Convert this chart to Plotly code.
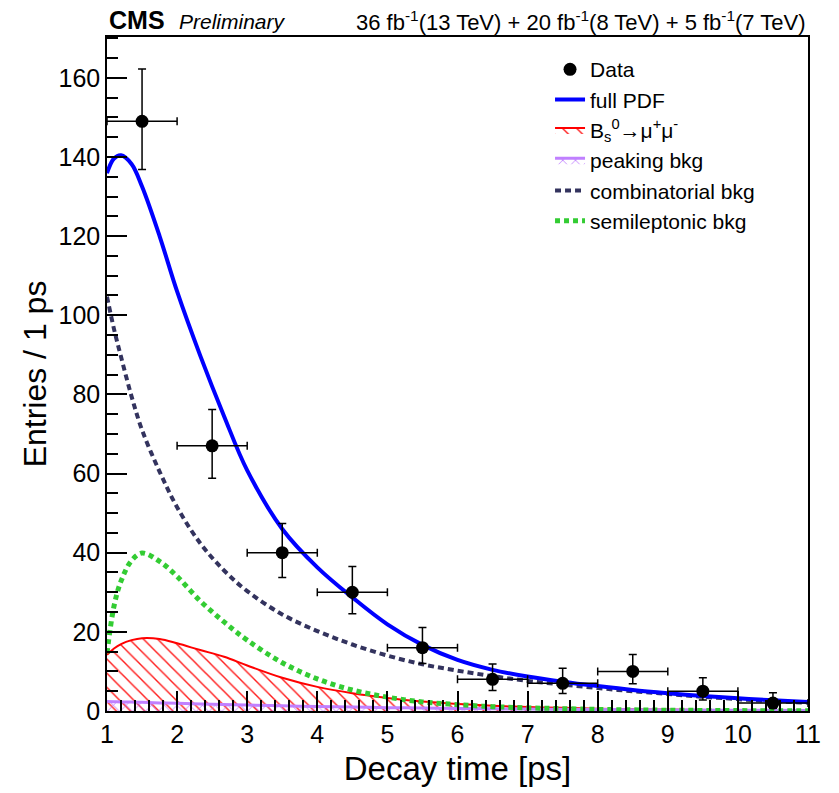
import plotly.graph_objects as go

# ---- data points (bin centres, counts, asymmetric Poisson errors) ----
bin_centers = [1.5, 2.5, 3.5, 4.5, 5.5, 6.5, 7.5, 8.5, 9.5, 10.5]
counts = [149, 67, 40, 30, 16, 8, 7, 10, 5, 2]
err_up = [13.2, 9.2, 7.4, 6.5, 5.1, 3.9, 3.8, 4.3, 3.4, 2.6]
err_dn = [12.2, 8.2, 6.3, 5.4, 4.0, 2.8, 2.6, 3.1, 2.2, 1.3]
bin_halfwidth = [0.5] * 10

# ---- fitted curves ----
t = [1.0, 1.1, 1.2, 1.35, 1.5, 1.75, 2.0, 2.33, 2.67, 3.0, 3.5, 4.0, 4.5,
     5.0, 5.5, 6.0, 6.5, 7.0, 7.5, 8.0, 8.5, 9.0, 9.5, 10.0, 10.5, 11.0]
full_pdf = [135.9, 139.6, 140.4, 138.2, 132.5, 120.0, 106.0, 89.8, 74.5, 60.8,
            46.0, 36.3, 28.7, 21.9, 16.7, 12.9, 10.4, 8.7, 7.4, 6.3, 5.3, 4.5,
            3.8, 3.2, 2.7, 2.3]
combinatorial = [104.7, 96.5, 89.5, 79.5, 71.0, 60.5, 51.5, 42.4, 35.5, 30.3,
                 24.4, 20.2, 16.8, 14.0, 11.8, 10.2, 8.8, 7.6, 6.7, 5.8, 5.0,
                 4.3, 3.6, 3.0, 2.5, 2.1]
semileptonic = [14.6, 26.5, 32.8, 38.0, 39.9, 37.8, 34.0, 27.8, 22.5, 17.9,
                12.2, 8.1, 5.3, 3.5, 2.3, 1.6, 1.1, 0.8, 0.6, 0.4, 0.3, 0.2,
                0.15, 0.1, 0.07, 0.05]
signal = [14.2, 15.8, 16.9, 17.9, 18.4, 18.2, 17.1, 15.4, 13.7, 11.5,
          8.4, 6.1, 4.5, 3.3, 2.4, 1.8, 1.35, 1.0, 0.8, 0.6, 0.45, 0.35,
          0.27, 0.2, 0.15, 0.12]
peaking = [2.4, 2.35, 2.3, 2.25, 2.2, 2.05, 1.95, 1.8, 1.65, 1.5,
           1.3, 1.15, 1.0, 0.85, 0.75, 0.65, 0.57, 0.5, 0.44, 0.38, 0.33,
           0.28, 0.24, 0.2, 0.17, 0.15]

x_ticks = list(range(1, 12))
y_ticks = [0, 20, 40, 60, 80, 100, 120, 140, 160]

FONT = "Liberation Sans, Arial, Helvetica, sans-serif"

fig = go.Figure()

fig.add_trace(go.Scatter(
    x=t, y=signal, mode="lines", name="B<sub>s</sub><sup>0</sup>→μ<sup>+</sup>μ<sup>-</sup>",
    legendgroup="c", legendrank=3,
    line=dict(color="#ff0000", width=2, shape="spline"),
    fill="tozeroy", fillcolor="rgba(0,0,0,0)",
    fillpattern=dict(shape="\\", fgcolor="#ff1a1a", fgopacity=1, bgcolor="rgba(255,255,255,0)",
                     size=10, solidity=0.14, fillmode="overlay"),
))

fig.add_trace(go.Scatter(
    x=t, y=peaking, mode="lines", name="peaking bkg", legendgroup="d", legendrank=4,
    line=dict(color="#c080ff", width=3, shape="spline"),
    fill="tozeroy", fillcolor="rgba(0,0,0,0)",
    fillpattern=dict(shape="x", fgcolor="#b060ff", fgopacity=1, bgcolor="rgba(255,255,255,0)",
                     size=9, solidity=0.15, fillmode="overlay"),
))

fig.add_trace(go.Scatter(
    x=t, y=combinatorial, mode="lines", name="combinatorial bkg", legendgroup="e",
    legendrank=5,
    line=dict(color="#33335e", width=4, dash="6px,4px", shape="spline"),
))

fig.add_trace(go.Scatter(
    x=t, y=semileptonic, mode="lines", name="semileptonic bkg", legendgroup="f",
    legendrank=6,
    line=dict(color="#33cc33", width=5, dash="5px,4px", shape="spline"),
))

fig.add_trace(go.Scatter(
    x=t, y=full_pdf, mode="lines", name="full PDF", legendgroup="b", legendrank=2,
    line=dict(color="#0000ff", width=4, shape="spline"),
))

fig.add_trace(go.Scatter(
    x=bin_centers, y=counts, mode="markers", name="Data", legendgroup="a", legendrank=1,
    marker=dict(color="black", size=13),
    error_y=dict(type="data", symmetric=False, array=err_up, arrayminus=err_dn,
                 color="black", thickness=1.5, width=4),
    error_x=dict(type="data", array=bin_halfwidth, color="black", thickness=1.5, width=4),
))

axis_common = dict(
    showline=True, linecolor="black", linewidth=1.5, mirror=True,
    ticks="inside", ticklen=20, tickwidth=1.5, tickcolor="black",
    showgrid=False, zeroline=False,
    tickfont=dict(family=FONT, size=25, color="black"),
)

fig.update_xaxes(
    range=[1, 11], tickvals=x_ticks, ticktext=[str(v) for v in x_ticks],
    minor=dict(dtick=0.2, ticks="inside", ticklen=11, tickwidth=1.5, tickcolor="black"),
    title=dict(text="Decay time [ps]", font=dict(family=FONT, size=33, color="black"), standoff=10),
    **axis_common,
)
fig.update_yaxes(
    range=[0, 170.3], tickvals=y_ticks, ticktext=[str(v) for v in y_ticks],
    minor=dict(dtick=5, ticks="inside", ticklen=11, tickwidth=1.5, tickcolor="black"),
    title=dict(text="Entries / 1 ps", font=dict(family=FONT, size=32, color="black"), standoff=2),
    **axis_common,
)

fig.update_layout(
    width=839, height=793,
    margin=dict(l=107, r=31, t=37, b=82),
    paper_bgcolor="white", plot_bgcolor="white",
    font=dict(family=FONT, color="black"),
    showlegend=True,
    legend=dict(x=0.632, y=0.982, xanchor="left", yanchor="top",
                bgcolor="rgba(0,0,0,0)", borderwidth=0,
                font=dict(family=FONT, size=21, color="black"),
                tracegroupgap=0, traceorder="grouped"),
    annotations=[
        dict(text="<b>CMS</b>", x=0, y=1, xref="paper", yref="paper",
             xanchor="left", yanchor="bottom", yshift=1, showarrow=False,
             font=dict(family=FONT, size=25, color="black")),
        dict(text="<i>Preliminary</i>", x=0.1, y=1, xref="paper", yref="paper",
             xanchor="left", yanchor="bottom", yshift=2, showarrow=False,
             font=dict(family=FONT, size=21, color="black")),
        dict(text="36 fb<sup>-1</sup>(13 TeV) + 20 fb<sup>-1</sup>(8 TeV) + 5 fb<sup>-1</sup>(7 TeV)",
             x=1, y=1, xref="paper", yref="paper",
             xanchor="right", yanchor="bottom", yshift=0, showarrow=False,
             font=dict(family=FONT, size=22, color="black")),
    ],
)

fig.write_html("out.html")
